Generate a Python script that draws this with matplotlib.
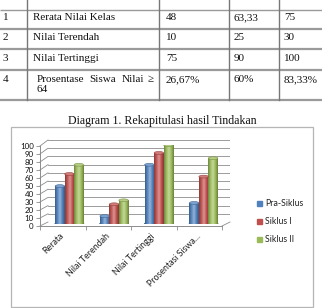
import numpy as np
import matplotlib.pyplot as plt
from matplotlib.colors import LinearSegmentedColormap, to_rgb
from matplotlib.patches import Ellipse, Rectangle

# table rows (No, Aspek, Pra-Siklus, Siklus I, Siklus II)
row_no = ['1', '2', '3', '4']
row_aspek = ['Rerata Nilai Kelas', 'Nilai Terendah', 'Nilai Tertinggi', 'Prosentase Siswa Nilai \u2265 64']
row_pra = ['48', '10', '75', '26,67%']
row_s1 = ['63,33', '25', '90', '60%']
row_s2 = ['75', '30', '100', '83,33%']

# chart data
categories = ['Rerata', 'Nilai Terendah', 'Nilai Tertinggi', 'Prosentasi Siswa...']
series_names = ['Pra-Siklus', 'Siklus I', 'Siklus II']
pra_siklus = [48, 10, 75, 26.67]
siklus_1 = [63.33, 25, 90, 60]
siklus_2 = [75, 30, 100, 83.33]
yticks = list(range(0, 101, 10))

colors = ['#4F81BD', '#C0504D', '#9BBB59']
W, H = 322, 308
serif = 'Liberation Serif'
sans = 'Lato'

fig = plt.figure(figsize=(W / 100, H / 100), dpi=100)


def px_axes(left, top, right, bottom):
    """axes placed by pixel box (origin top left)"""
    return fig.add_axes([left / W, 1 - bottom / H, (right - left) / W, (bottom - top) / H])


# background axes in pixel coords
bg = fig.add_axes([0, 0, 1, 1])
bg.set_xlim(0, W)
bg.set_ylim(H, 0)
bg.axis('off')

# --- table ---
lc = '#9a9a9a'
for y, lw in [(10, 1.0), (29, 1.6), (49, 1.6), (70, 1.6), (100, 1.6)]:
    bg.plot([0, W], [y, y], color=lc, lw=lw, solid_capstyle='butt')
for x in [27, 159, 229, 279]:
    bg.plot([x, x], [0, 100], color='#777777', lw=1.0)

row_y = [18, 38, 58.5]
tkw = dict(family=serif, fontsize=8.0, va='center', color='#111111')
for i in range(3):
    bg.text(3, row_y[i], row_no[i], **tkw)
    bg.text(33, row_y[i], row_aspek[i], **tkw)
    bg.text(166, row_y[i], row_pra[i], **tkw)
    bg.text(234, row_y[i], row_s1[i], **tkw)
    bg.text(284, row_y[i], row_s2[i], **tkw)
# last row, justified over two lines
bg.text(3, 79.5, row_no[3], **tkw)
words = row_aspek[3].split()
for w, x in zip(words[:4], [37, 89, 122, 148]):
    bg.text(x, 79.5, w, **tkw)
bg.text(37, 89.5, words[4], **tkw)
bg.text(166, 79.5, row_pra[3], **tkw)
bg.text(234, 79.5, row_s1[3], **tkw)
bg.text(284, 79.5, row_s2[3], **tkw)

# caption
bg.text(162, 121, 'Diagram 1. Rekapitulasi hasil Tindakan', family=serif,
        fontsize=8.6, ha='center', va='center', color='#111111')

# chart frame
bg.add_patch(Rectangle((11, 127), 302, 180, fill=False, ec='#b5b5b5', lw=0.9))

# floor / side edges and wall connectors
gc = '#8c8c8c'
bg.plot([222, 230], [226, 222], color=gc, lw=0.6)
for v in yticks:
    yf = 226 - 0.8 * v
    yb = 222 - 0.82 * v
    bg.plot([40, 48], [yf, yb], color=gc, lw=0.6)

# legend
for k, name in enumerate(series_names):
    ly = 203 + k * 18.3
    bg.add_patch(Rectangle((257, ly - 2.5), 5, 5, color=colors[k]))
    bg.text(265, ly, name, family=sans, fontsize=6.3, va='center', color='#222222')

# back wall gridlines
wall = px_axes(48, 140, 230, 222)
wall.set_ylim(0, 100)
wall.set_xlim(0, 1)
for v in yticks:
    wall.axhline(v, color=gc, lw=0.6)
wall.axis('off')

# front axes (value axis + category axis)
front = px_axes(40, 146, 222, 226)
front.patch.set_alpha(0)
front.set_ylim(0, 100)
front.set_xlim(0, 4)
front.set_yticks(yticks)
front.set_yticklabels([str(v) for v in yticks], family=sans, fontsize=5.7)
front.set_xticks(range(5))
front.set_xticklabels([])
for s in ['top', 'right']:
    front.spines[s].set_visible(False)
for s in ['left', 'bottom']:
    front.spines[s].set_color(gc)
    front.spines[s].set_linewidth(0.7)
front.tick_params(axis='both', colors=gc, length=3, width=0.6, pad=1.5, labelcolor='#111111')
for i, c in enumerate(categories):
    front.text(i + 0.57, -7, c, rotation=45, ha='right', va='top', family=sans,
               fontsize=6.4, color='#222222')

# bars (cylinders)
bars_ax = px_axes(47, 145, 226, 224)
bars_ax.patch.set_alpha(0)
bars_ax.axis('off')
x = np.arange(len(categories))
bw = 0.212
grad = np.linspace(0, 1, 64).reshape(1, -1)
for k, vals in enumerate([pra_siklus, siklus_1, siklus_2]):
    base = np.array(to_rgb(colors[k]))
    cmap = LinearSegmentedColormap.from_list(
        'cyl%d' % k,
        [base * 0.72, base * 0.95 + 0.05, np.minimum(base * 0.6 + 0.4, 1), base, base * 0.68])
    bars = bars_ax.bar(x + (k - 1) * bw, vals, width=bw, color=colors[k], lw=0)
    for b in bars:
        x0, h = b.get_x(), b.get_height()
        im = bars_ax.imshow(grad, cmap=cmap, extent=(x0, x0 + bw, 0, h),
                            aspect='auto', zorder=2)
        im.set_clip_path(b)
        bars_ax.add_patch(Ellipse((x0 + bw / 2, 0), bw, 3.6, color=base * 0.8, zorder=1.5))
        bars_ax.add_patch(Ellipse((x0 + bw / 2, h), bw, 3.6,
                                  fc=np.minimum(base * 0.75 + 0.25, 1),
                                  ec=base * 0.8, lw=0.4, zorder=3))
bars_ax.set_xlim(-0.5, 3.5)
bars_ax.set_ylim(0, 100)

fig.savefig('out.png', dpi=100)
